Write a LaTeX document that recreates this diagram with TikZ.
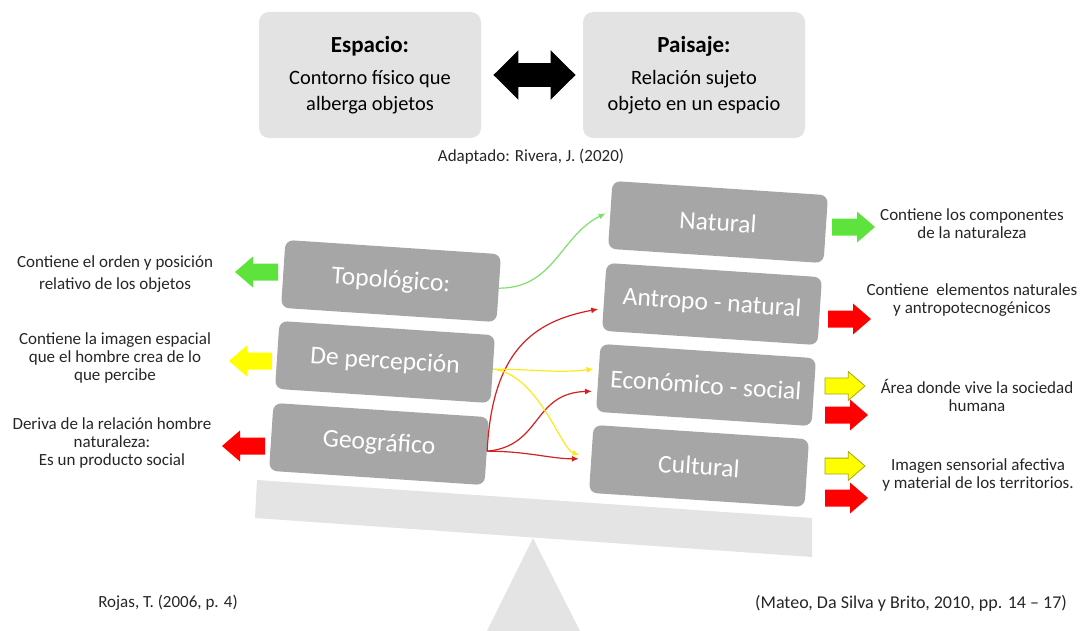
\documentclass[tikz,border=0pt]{standalone}
\usepackage{fontspec}
\setmainfont{Carlito}
\usetikzlibrary{positioning, calc, arrows.meta}
\definecolor{cajaclara}{HTML}{E3E3E3}
\definecolor{cajagris}{HTML}{A6A6A6}
\definecolor{balanza}{HTML}{E4E4E4}
\definecolor{verde}{HTML}{5EE33C}
\definecolor{amarillo}{HTML}{FFFF00}
\definecolor{bordeam}{HTML}{A8A800}
\definecolor{rojo}{HTML}{FF0000}
\definecolor{lineaverde}{HTML}{7CE06A}
\definecolor{linearoja}{HTML}{D42020}
\definecolor{lineaam}{HTML}{FFE81A}
\definecolor{texto}{HTML}{262626}
\tikzset{
  concepto/.style={fill=cajaclara, rounded corners=5pt, minimum width=111pt, minimum height=63pt, align=center, font=\fontsize{10.2}{13}\selectfont, text=black},
  tipo/.style={fill=cajagris, rounded corners=4pt, minimum width=108pt, minimum height=34pt, rotate=-3.8, text=white, font=\fontsize{12.8}{14}\selectfont},
  nota/.style={align=center, text=texto, font=\fontsize{8.5}{9}\selectfont},
  flecha/.pic={\path[pic actions] (0,-8.5) -- (25,-8.5) -- (25,-15.5) -- (43,0) -- (25,15.5) -- (25,8.5) -- (0,8.5) -- cycle;},
  enlace/.style={line width=0.6pt, -{Latex[length=3.5pt,width=3pt]}, shorten >=2.5pt},
}

\begin{document}
\begin{tikzpicture}[x=0.5pt, y=-0.5pt]
    \useasboundingbox (0,0) rectangle (1086,631);
    % balanza
    \fill[balanza] (533,538) -- (580,631) -- (487,631) -- cycle;
    \fill[balanza] (257,480) -- (812,518) -- (812,557) -- (255,518) -- cycle;
    % espacio y paisaje
    \node[concepto] (espacio) at (370,75) {{\fontsize{11.5}{13}\selectfont\bfseries Espacio:}\\[3pt]Contorno físico que\\alberga objetos};
    \node[concepto] (paisaje) at (694,75) {{\fontsize{11.5}{13}\selectfont\bfseries Paisaje:}\\[3pt]Relación sujeto\\objeto en un espacio};
    \draw[line width=12pt, {Triangle[width=24pt,length=12.5pt]}-{Triangle[width=24pt,length=12.5pt]}, shorten <=6pt, shorten >=3.5pt] (espacio) -- (paisaje);
    \node[nota] (rivera) at (531,157) {Adaptado: Rivera, J. (2020)};
    % tipos de espacio
    \node[tipo] (topo) at (391,281) {Topológico:};
    \node[tipo] (perc) at (385,362) {De percepción};
    \node[tipo] (geo) at (379,444) {Geográfico};
    % tipos de paisaje
    \node[tipo] (nat) at (718,222) {Natural};
    \node[tipo] (antro) at (712,304) {Antropo - natural};
    \node[tipo] (eco) at (706,385) {Económico - social};
    \node[tipo] (cul) at (699,466) {Cultural};
    % relaciones
    \draw[enlace, lineaverde] (topo.east) .. controls +(55,0) and +(-50,25) .. (nat.178);
    \draw[enlace, linearoja] (geo.east) .. controls +(5,-100) and +(-70,13) .. (antro.186);
    \draw[enlace, linearoja] (geo.east) .. controls +(55,-5) and +(-65,2) .. (eco.187);
    \draw[enlace, linearoja, shorten >=6pt] (geo.east) .. controls +(40,0) and +(-40,0) .. (cul.west);
    \draw[enlace, lineaam] (perc.east) .. controls +(40,0) and +(-40,5) .. (eco.175);
    \draw[enlace, lineaam, shorten >=6pt] (perc.east) .. controls +(45,5) and +(-30,-10) .. (cul.west);
    % flechas izquierda
    \pic[fill=verde, xscale=-1] at (278,272) {flecha};
    \pic[fill=amarillo, xscale=-1] at (272,361) {flecha};
    \pic[fill=rojo, xscale=-1] at (265,446) {flecha};
    \node[nota] (ntopo) at (115,274) {Contiene el orden y posición\\[2pt]relativo de los objetos};
    \node[nota] (nperc) at (115,358) {Contiene la imagen espacial\\que el hombre crea de lo\\que percibe};
    \node[nota] (ngeo) at (112,443) {Deriva de la relación hombre\\naturaleza:\\Es un producto social};
    % flechas derecha
    \pic[fill=verde] at (832,227) {flecha};
    \pic[fill=rojo] at (828,319) {flecha};
    \pic[fill=amarillo, draw=bordeam, scale=0.93] at (825,386) {flecha};
    \pic[fill=rojo] at (825,415) {flecha};
    \pic[fill=amarillo, draw=bordeam, scale=0.93] at (825,466) {flecha};
    \pic[fill=rojo] at (825,498) {flecha};
    \node[nota] (nnat) at (972,224) {Contiene los componentes\\de la naturaleza};
    \node[nota] (nantro) at (972,300) {Contiene\ \ elementos naturales\\y antropotecnogénicos};
    \node[nota] (neco) at (977,395) {Área donde vive la sociedad\\humana};
    \node[nota] (ncul) at (978,475) {Imagen sensorial afectiva\\y material de los territorios.};
    % fuentes
    \node[nota] (rojas) at (168,603) {Rojas, T. (2006, p. 4)};
    \node[nota, font=\fontsize{9}{10}\selectfont] (mateo) at (911,603) {(Mateo, Da Silva y Brito, 2010, pp. 14 – 17)};
\end{tikzpicture}
\end{document}
